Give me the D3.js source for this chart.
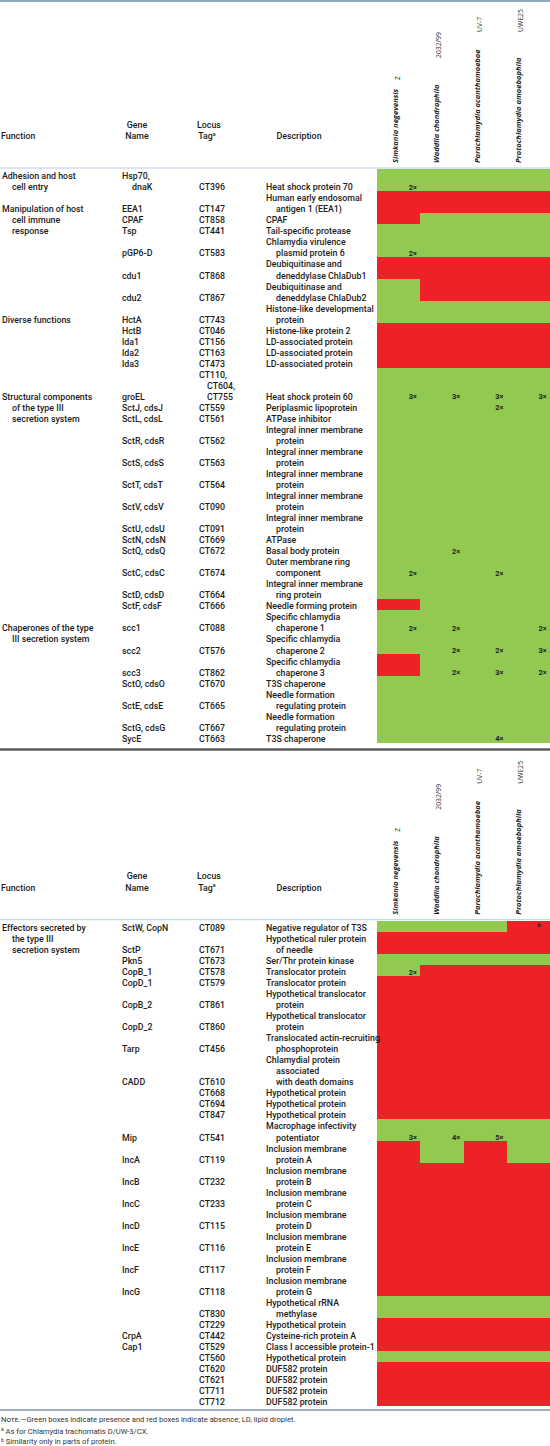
<!DOCTYPE html>
<html><head><meta charset="utf-8">
<script src="https://cdn.jsdelivr.net/npm/d3@7"></script>
<style>body{margin:0;background:#fff}svg{display:block}</style>
</head><body><svg id="c" width="550" height="1446"></svg>
<script>
// ---------- DATA ----------
const species = ["Simkania negevensis","Waddlia chondrophila","Parachlamydia acanthamoebae","Protochlamydia amoebophila"];
const strains = ["Z","2032/99","UV-7","UWE25"];
const strainBottom = [80, 58, 32, 32];

const funcs1 = [["Adhesion and host","cell entry"],["Manipulation of host","cell immune","response"],["Diverse functions"],["Structural components","of the type III","secretion system"],["Chaperones of the type","III secretion system"]];
const funcStart1 = [0,1,7,12,25];
const genes1 = ["Hsp70,|dnaK","EEA1","CPAF","Tsp","pGP6-D","cdu1","cdu2","HctA","HctB","lda1","lda2","lda3","groEL","SctJ, cdsJ","SctL, cdsL","SctR, cdsR","SctS, cdsS","SctT, cdsT","SctV, cdsV","SctU, cdsU","SctN, cdsN","SctQ, cdsQ","SctC, cdsC","SctD, cdsD","SctF, cdsF","scc1","scc2","scc3","SctO, cdsO","SctE, cdsE","SctG, cdsG","SycE"];
const loci1 = ["CT396","CT147","CT858","CT441","CT583","CT868","CT867","CT743","CT046","CT156","CT163","CT473","CT110,|CT604,|CT755","CT559","CT561","CT562","CT563","CT564","CT090","CT091","CT669","CT672","CT674","CT664","CT666","CT088","CT576","CT862","CT670","CT665","CT667","CT663"];
const desc1 = ["Heat shock protein 70","Human early endosomal|antigen 1 (EEA1)","CPAF","Tail-specific protease","Chlamydia virulence|plasmid protein 6","Deubiquitinase and|deneddylase ChlaDub1","Deubiquitinase and|deneddylase ChlaDub2","Histone-like developmental|protein","Histone-like protein 2","LD-associated protein","LD-associated protein","LD-associated protein","Heat shock protein 60","Periplasmic lipoprotein","ATPase inhibitor","Integral inner membrane|protein","Integral inner membrane|protein","Integral inner membrane|protein","Integral inner membrane|protein","Integral inner membrane|protein","ATPase","Basal body protein","Outer membrane ring|component","Integral inner membrane|ring protein","Needle forming protein","Specific chlamydia|chaperone 1","Specific chlamydia|chaperone 2","Specific chlamydia|chaperone 3","T3S chaperone","Needle formation|regulating protein","Needle formation|regulating protein","T3S chaperone"];
const pres1 = ["1111","0000","0111","1111","1111","0000","1000","1111","0000","0000","0000","0000","1111","1111","1111","1111","1111","1111","1111","1111","1111","1111","1111","1111","0111","1111","1111","0111","1111","1111","1111","1111"];
const copies1 = {0:["2×","","",""],4:["2×","","",""],12:["3×","3×","3×","3×"],13:["","","2×",""],21:["","2×","",""],22:["2×","","2×",""],25:["2×","2×","","2×"],26:["","2×","2×","3×"],27:["","2×","3×","2×"],31:["","","4×",""]};

const funcs2 = [["Effectors secreted by","the type III","secretion system"]];
const funcStart2 = [0];
const genes2 = ["SctW, CopN","SctP","Pkn5","CopB_1","CopD_1","CopB_2","CopD_2","Tarp","CADD","","","","Mip","IncA","IncB","IncC","IncD","IncE","IncF","IncG","","","CrpA","Cap1","","","","",""];
const loci2 = ["CT089","CT671","CT673","CT578","CT579","CT861","CT860","CT456","CT610","CT668","CT694","CT847","CT541","CT119","CT232","CT233","CT115","CT116","CT117","CT118","CT830","CT229","CT442","CT529","CT560","CT620","CT621","CT711","CT712"];
const desc2 = ["Negative regulator of T3S","Hypothetical ruler protein|of needle","Ser/Thr protein kinase","Translocator protein","Translocator protein","Hypothetical translocator|protein","Hypothetical translocator|protein","Translocated actin-recruiting|phosphoprotein","Chlamydial protein|associated|with death domains","Hypothetical protein","Hypothetical protein","Hypothetical protein","Macrophage infectivity|potentiator","Inclusion membrane|protein A","Inclusion membrane|protein B","Inclusion membrane|protein C","Inclusion membrane|protein D","Inclusion membrane|protein E","Inclusion membrane|protein F","Inclusion membrane|protein G","Hypothetical rRNA|methylase","Hypothetical protein","Cysteine-rich protein A","Class I accessible protein-1","Hypothetical protein","DUF582 protein","DUF582 protein","DUF582 protein","DUF582 protein"];
const pres2 = ["1110","0000","1111","1000","0000","0000","0000","0000","0000","0000","0000","0000","1111","0101","0000","0000","0000","0000","0000","0000","1111","0000","0000","0000","1111","0000","0000","0000","0000"];
const copies2 = {0:["","","","b"],3:["2×","","",""],12:["3×","4×","5×",""]};

const notes = ["Green boxes indicate presence and red boxes indicate absence; LD, lipid droplet.","As for Chlamydia trachomatis D/UW-3/CX.","Similarity only in parts of protein."];

// ---------- LAYOUT ----------
const LH = 11.03;
const FONT = "Roboto, sans-serif";
const HFONT = "'Open Sans', sans-serif";
const GREEN = "#92c950", RED = "#ec2227", INK = "#1c1c1c";
const svg = d3.select("#c");
const x = d3.scaleBand().domain(d3.range(4)).range([377, 550]);
const hx = d3.scaleLinear().domain([0,3]).range([398,521]);
const colX = {fn:2, gene:122, locus:199, desc:266};
const indent = {fn:10, gene:10, locus:8, desc:10};

function measure(s, fam, fw, fst) {
  const p = svg.append("text").attr("font-family",fam).attr("font-weight",fw).attr("font-style",fst).attr("font-size",10).text(s);
  const w = p.node().getComputedTextLength(); p.remove(); return w;
}
const FS = 10*114/measure("Translocated actin-recruiting", FONT, 500, "normal");
const HFS = 10*372/d3.sum(species, s=>measure(s, HFONT, 700, "italic"));

function txt(g, xx, yy, s, opt={}) {
  return g.append("text").attr("x",xx).attr("y",yy)
    .attr("font-family",opt.fam||FONT).attr("font-size",opt.fs||FS).attr("font-weight",opt.fw||500)
    .attr("fill",opt.fill||INK).attr("text-anchor",opt.anchor||"start").text(s);
}

function header(top) {
  const g = svg.append("g");
  txt(g, 1, top+139, "Function");
  txt(g, 137, top+127.5, "Gene", {anchor:"middle"});
  txt(g, 137, top+139, "Name", {anchor:"middle"});
  txt(g, 209, top+127.5, "Locus", {anchor:"middle"});
  const t = txt(g, 207, top+139, "Tag", {anchor:"middle"});
  t.append("tspan").attr("font-size",FS*0.6).attr("dy",-3.5).text("a");
  txt(g, 299, top+139, "Description", {anchor:"middle"});
  species.forEach((s,i)=>{
    g.append("text").attr("transform",`translate(${hx(i)},${top+163}) rotate(-90)`)
      .attr("font-family",HFONT).attr("font-size",HFS).attr("font-weight",700).attr("font-style","italic")
      .attr("fill",INK).text(s);
    g.append("text").attr("transform",`translate(${hx(i)+1.5},${top+strainBottom[i]}) rotate(-90)`)
      .attr("font-family",HFONT).attr("font-size",HFS*0.9).attr("font-weight",400)
      .attr("fill","#333").text(strains[i]);
  });
}

function block(top, genes, loci, desc, pres, copies, funcs, funcStart) {
  const split = s => s === "" ? [] : s.split("|");
  const rows = genes.map((gn,i)=>({g:split(gn), t:split(loci[i]), d:split(desc[i]), p:pres[i], c:copies[i]||null}));
  let acc = 0;
  rows.forEach(r=>{ r.n = Math.max(r.g.length, r.t.length, r.d.length, 1); r.s = acc; acc += r.n; });
  const y = d3.scaleLinear().domain([0,acc]).range([top, top+acc*LH]);
  const g = svg.append("g");
  rows.forEach((r,ri)=>{
    d3.range(4).forEach(k=>{
      const last = ri === rows.length-1;
      g.append("rect").attr("x",x(k)).attr("y",y(r.s))
        .attr("width",x.bandwidth() + (k<3?1:0))
        .attr("height",y(r.s+r.n)-y(r.s) + (last?0:1))
        .attr("shape-rendering","crispEdges")
        .attr("fill", r.p[k]==="1" ? GREEN : RED);
    });
  });
  rows.forEach(r=>{
    if(!r.c) return;
    r.c.forEach((lab,k)=>{
      if(!lab) return;
      if(lab==="b") {
        txt(g, x(k)+x.bandwidth()*0.75, y(r.s)+6.5, "b", {fs:5.8, fw:700, anchor:"middle", fill:"#222"});
      } else {
        txt(g, x(k)+x.bandwidth()*0.83, y(r.s+r.n)-1.2, lab, {fs:7.4, fw:700, anchor:"middle", fill:"#222"});
      }
    });
  });
  const base = line => y(line+1) - 0.8;
  rows.forEach(r=>{
    [["gene",r.g],["locus",r.t],["desc",r.d]].forEach(([key,lines])=>{
      lines.forEach((s,j)=>{
        txt(g, colX[key] + (j>0?indent[key]:0), base(r.s + r.n - lines.length + j), s);
      });
    });
  });
  funcs.forEach((lines,gi)=>{
    const r = rows[funcStart[gi]];
    const first = r.s + r.n - Math.max(r.g.length,1);
    lines.forEach((s,j)=> txt(g, colX.fn + (j>0?indent.fn:0), base(first+j), s));
  });
  return y(acc);
}

// ---------- DRAW ----------
svg.append("line").attr("x1",0).attr("x2",550).attr("y1",1).attr("y2",1).attr("stroke","#6f8db0").attr("stroke-width",1.6);
header(0);
svg.append("line").attr("x1",0).attr("x2",550).attr("y1",168).attr("y2",168).attr("stroke","#b8cbe2").attr("stroke-width",1);
block(169, genes1, loci1, desc1, pres1, copies1, funcs1, funcStart1);
svg.append("line").attr("x1",0).attr("x2",550).attr("y1",749.5).attr("y2",749.5).attr("stroke","#5a5a5a").attr("stroke-width",2.5);
const off2 = 920.7 - 169;
header(off2);
svg.append("line").attr("x1",0).attr("x2",550).attr("y1",off2+168).attr("y2",off2+168).attr("stroke","#b8cbe2").attr("stroke-width",1);
block(920.7, genes2, loci2, desc2, pres2, copies2, funcs2, funcStart2);
svg.append("line").attr("x1",0).attr("x2",550).attr("y1",1410).attr("y2",1410).attr("stroke","#7d98b5").attr("stroke-width",1.4);

// notes
const nf = 7.6;
const n0 = svg.append("text").attr("x",1).attr("y",1422).attr("font-family",FONT).attr("font-size",nf).attr("fill","#333");
n0.append("tspan").attr("font-variant","small-caps").text("Note");
n0.append("tspan").text(".—" + notes[0]);
["a","b"].forEach((sup,i)=>{
  const t = svg.append("text").attr("x",1).attr("y",1433.5+i*10.5).attr("font-family",FONT).attr("font-size",nf).attr("fill","#333");
  t.append("tspan").attr("font-size",nf*0.65).attr("dy",-2.5).text(sup);
  t.append("tspan").attr("dy",2.5).text(" " + notes[i+1]);
});
</script></body></html>
